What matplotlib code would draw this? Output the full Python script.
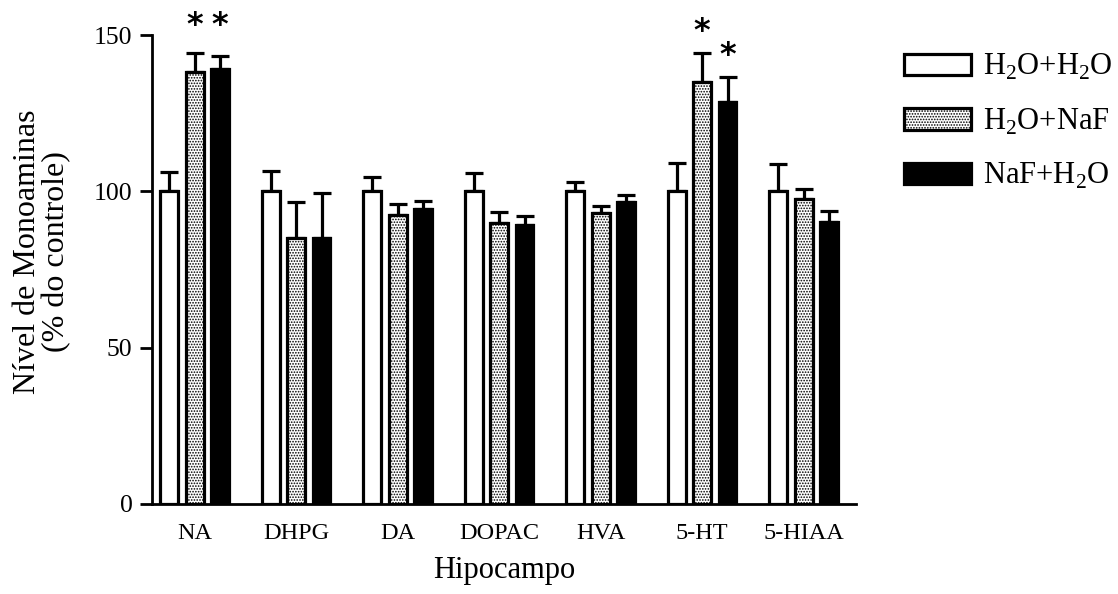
import matplotlib
matplotlib.use("Agg")
import matplotlib.pyplot as plt
import numpy as np
from matplotlib.patches import Patch

plt.rcParams['font.family'] = ['Liberation Serif', 'DejaVu Serif']
plt.rcParams['hatch.linewidth'] = 0.8
plt.rcParams['mathtext.fontset'] = 'custom'
plt.rcParams['mathtext.rm'] = 'Liberation Serif'

categories = ["NA", "DHPG", "DA", "DOPAC", "HVA", "5-HT", "5-HIAA"]
series_names = ["H$_2$O+H$_2$O", "H$_2$O+NaF", "NaF+H$_2$O"]
h2o_h2o = [100, 100, 100, 100, 100, 100, 100]
h2o_naf = [138.3, 85.1, 92.3, 90.0, 93.0, 135.1, 97.5]
naf_h2o = [139.1, 85.2, 94.2, 89.1, 96.5, 128.6, 90.3]
err_h2o_h2o = [6.2, 6.5, 4.6, 5.9, 3.0, 9.1, 8.9]
err_h2o_naf = [6.1, 11.6, 3.7, 3.4, 2.2, 9.1, 3.3]
err_naf_h2o = [4.3, 14.3, 2.7, 3.1, 2.2, 7.9, 3.5]
# significance markers: (category index, series index)
significant = [(0, 1), (0, 2), (5, 1), (5, 2)]
star_offset = [8.6, 9.6, 7.0, 7.0]

values = [h2o_h2o, h2o_naf, naf_h2o]
errors = [err_h2o_h2o, err_h2o_naf, err_naf_h2o]
facecolors = ["white", "white", "black"]
hatches = [None, "......", None]

fig = plt.figure(figsize=(11.18, 5.94), dpi=100)
ax = fig.add_axes([152/1118, 1-504/594, (856-152)/1118, (504-35)/594])

x = np.arange(len(categories))
offset = 0.251
width = 0.177
for s in range(3):
    xs = x + (s - 1) * offset
    ax.bar(xs, values[s], width=width, color=facecolors[s], edgecolor="black",
           linewidth=2.3, hatch=hatches[s], zorder=2)
    ax.errorbar(xs, values[s], yerr=[np.zeros(len(x)), errors[s]], fmt="none",
                ecolor="black", elinewidth=2.3, capsize=6.5, capthick=2.3, zorder=1)

for (ci, si), off in zip(significant, star_offset):
    top = values[si][ci] + errors[si][ci]
    ax.text(x[ci] + (si - 1) * offset, top + off, "*", ha="center", va="center",
            fontsize=23, fontfamily="DejaVu Sans", fontweight="bold", clip_on=False)

ax.set_xlim(-0.419, 6.517)
ax.set_ylim(0, 150)
ax.set_yticks([0, 50, 100, 150])
ax.set_xticks(x)
ax.set_xticklabels(categories)
ax.tick_params(axis="x", length=0, pad=14, labelsize=17.5)
ax.tick_params(axis="y", length=9, width=2, pad=5, labelsize=18.5)
for sp in ["top", "right"]:
    ax.spines[sp].set_visible(False)
for sp in ["left", "bottom"]:
    ax.spines[sp].set_linewidth(2)
ax.set_xlabel("Hipocampo", fontsize=22, labelpad=8)

fig.text(42/1118, 1-252/594, "Nível de Monoaminas\n(% do controle)", rotation=90,
         ha="center", va="center", fontsize=23, multialignment="center", linespacing=1.0)

handles = [Patch(facecolor=facecolors[s], edgecolor="black", linewidth=2.3, hatch=hatches[s])
           for s in range(3)]
leg = fig.legend(handles, series_names, loc="upper left", bbox_to_anchor=(904/1118, 1-52/594),
                 frameon=False, fontsize=22, handlelength=2.2, handleheight=0.7,
                 labelspacing=0.8, handletextpad=0.4, borderaxespad=0, borderpad=0)

fig.savefig("out.png", dpi=100)
